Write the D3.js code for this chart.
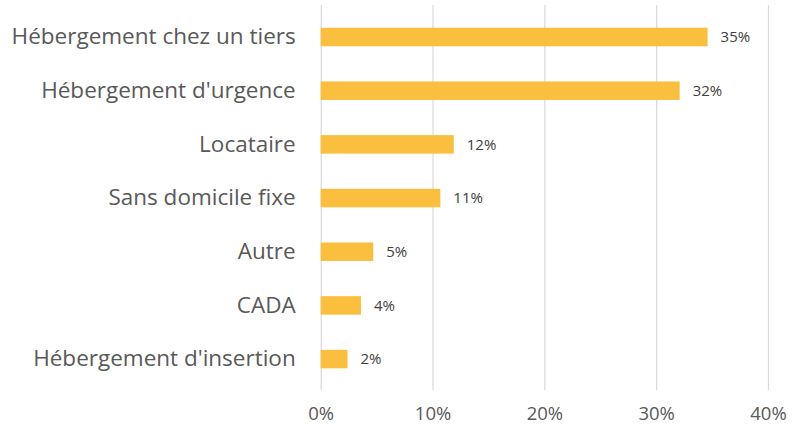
<!DOCTYPE html>
<html><head><meta charset="utf-8">
<script src="https://cdn.jsdelivr.net/npm/d3@7"></script>
<style>html,body{margin:0;padding:0;background:#fff;}svg{display:block;}</style>
</head><body>
<svg id="chart" width="793" height="425"></svg>
<script>
const categories = ["Hébergement chez un tiers","Hébergement d'urgence","Locataire","Sans domicile fixe","Autre","CADA","Hébergement d'insertion"];
const values = [34.6, 32.1, 11.9, 10.7, 4.7, 3.6, 2.4];
const valueLabels = ["35%","32%","12%","11%","5%","4%","2%"];
const tickValues = [0, 10, 20, 30, 40];

const svg = d3.select("#chart");
const font = "'Open Sans', sans-serif";
const x = d3.scaleLinear().domain([0, 40]).range([320.7, 768]);
const y = d3.scaleBand().domain(categories).range([10.2, 385.9]).paddingInner(0.655).paddingOuter(0.3275);

// gridlines
const xAxis = d3.axisBottom(x).tickValues(tickValues).tickFormat(d => d + "%").tickSize(-385).tickPadding(20);
const gx = svg.append("g").attr("transform", "translate(0,390)").call(xAxis);
gx.select(".domain").remove();
gx.selectAll(".tick line").attr("stroke", "#d9d9d9").attr("stroke-width", 1.2);
gx.selectAll(".tick text").attr("fill", "#595959").style("font-family", font).style("font-size", "18.5px").attr("dy", "0.35em").attr("y", 24);

// bars
svg.append("g").selectAll("rect").data(categories).join("rect")
  .attr("x", x(0)).attr("y", d => y(d))
  .attr("width", (d, i) => x(values[i]) - x(0))
  .attr("height", y.bandwidth())
  .attr("fill", "#FBBF40");

// value labels
svg.append("g").selectAll("text").data(categories).join("text")
  .attr("x", (d, i) => x(values[i]) + 13)
  .attr("y", d => y(d) + y.bandwidth() / 2)
  .attr("dy", "0.35em")
  .attr("fill", "#404040")
  .style("font-family", font).style("font-size", "15px")
  .text((d, i) => valueLabels[i]);

// category axis
const yAxis = d3.axisLeft(y).tickSize(0).tickPadding(25);
const gy = svg.append("g").attr("transform", `translate(${x(0)},0)`).call(yAxis);
gy.select(".domain").remove();
gy.selectAll(".tick text").attr("fill", "#595959").style("font-family", font).style("font-size", "22.5px");
</script>
</body></html>
